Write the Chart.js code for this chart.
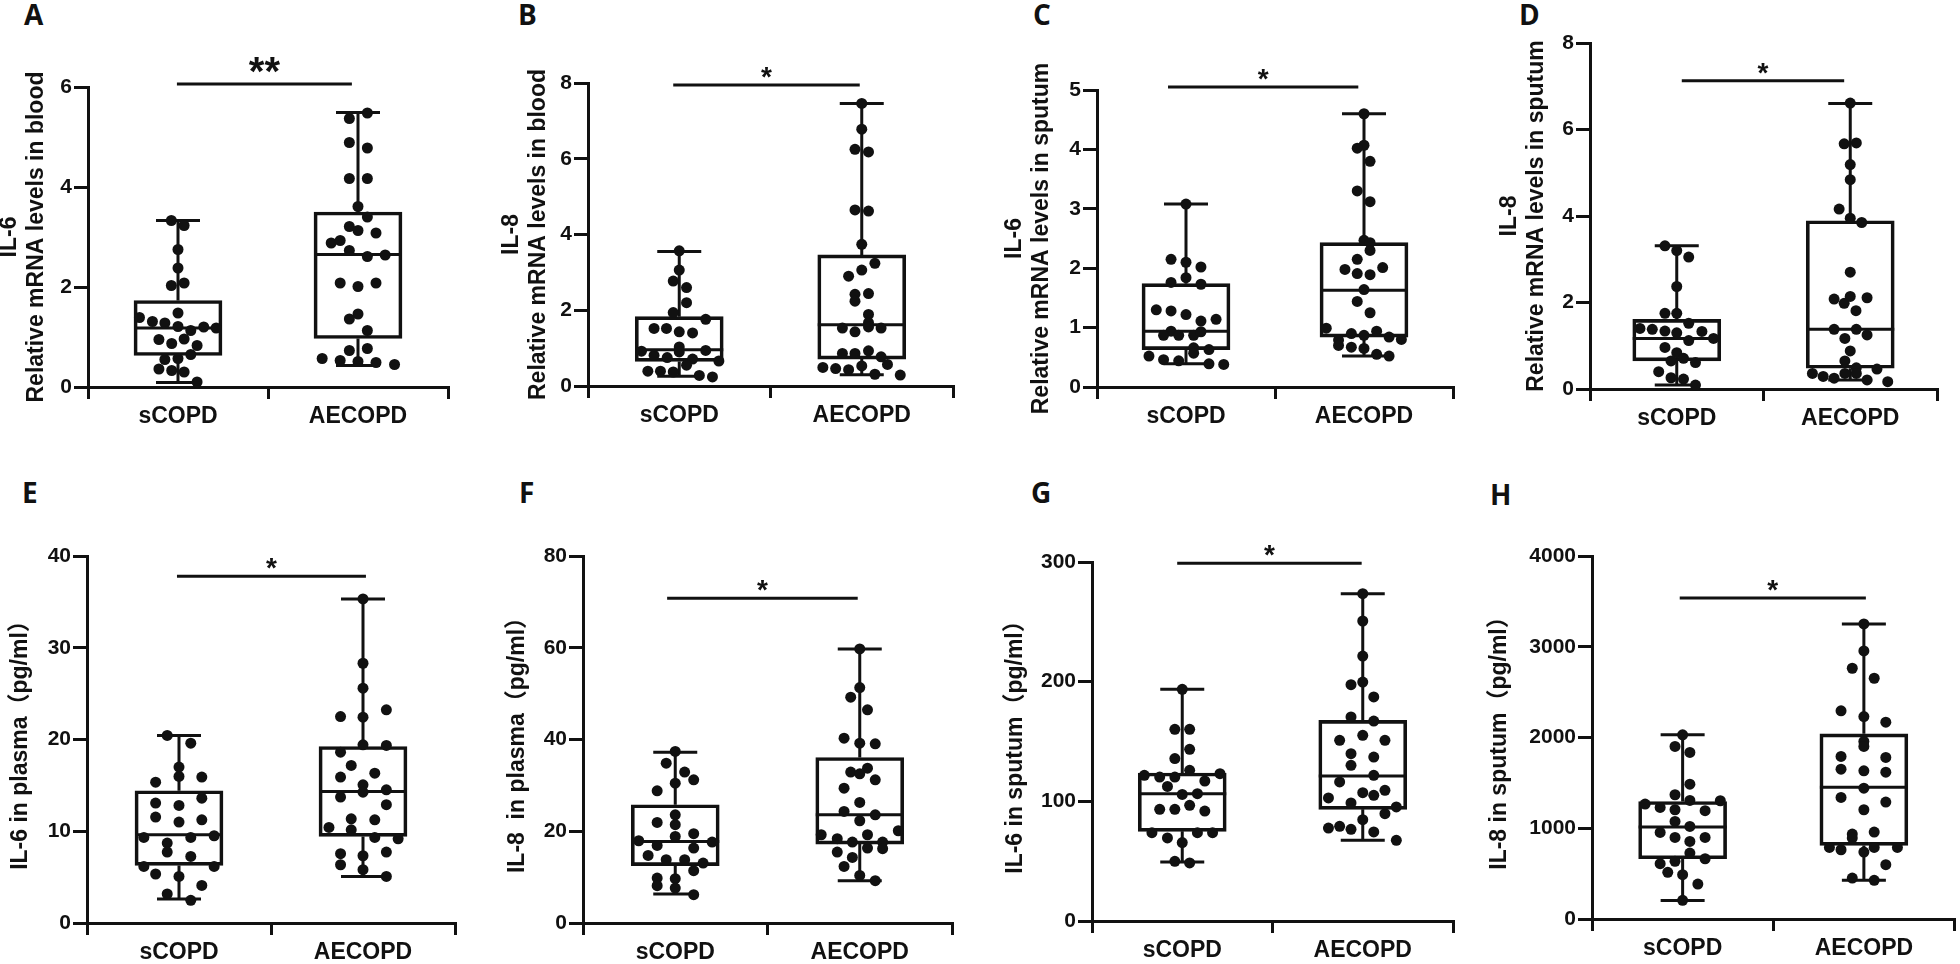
<!DOCTYPE html>
<html><head><meta charset="utf-8">
<script src="https://cdn.jsdelivr.net/npm/chart.js@4.4.1/dist/chart.umd.min.js"></script>
<style>
html,body{margin:0;padding:0;background:#fff;}
body{width:1960px;height:964px;position:relative;overflow:hidden;}
canvas{position:absolute;}
.lbl{position:absolute;font-family:'Open Sans',sans-serif;font-weight:700;font-size:28px;line-height:28px;color:#111;}
</style></head><body>
<div id="letters"></div>
<script>
// ---------------- DATA ----------------
const categories = ['sCOPD', 'AECOPD'];
const panelLetters = ['A','B','C','D','E','F','G','H'];

const A_yTitle = ['IL-6', 'Relative mRNA levels in blood'];
const B_yTitle = ['IL-8', 'Relative mRNA levels in blood'];
const C_yTitle = ['IL-6', 'Relative mRNA levels in sputum'];
const D_yTitle = ['IL-8', 'Relative mRNA levels in sputum'];
const E_yTitle = 'IL-6 in plasma（pg/ml）';
const F_yTitle = 'IL-8  in plasma（pg/ml）';
const G_yTitle = 'IL-6 in sputum（pg/ml）';
const H_yTitle = 'IL-8 in sputum（pg/ml）';

const A_yTicks = [0, 2, 4, 6];
const B_yTicks = [0, 2, 4, 6, 8];
const C_yTicks = [0, 1, 2, 3, 4, 5];
const D_yTicks = [0, 2, 4, 6, 8];
const E_yTicks = [0, 10, 20, 30, 40];
const F_yTicks = [0, 20, 40, 60, 80];
const G_yTicks = [0, 100, 200, 300];
const H_yTicks = [0, 1000, 2000, 3000, 4000];

// box stats: [min, Q1, median, Q3, max]
const A_box_sCOPD = [0.09, 0.63, 1.18, 1.73, 3.33];
const A_box_AECOPD = [0.43, 0.97, 2.65, 3.50, 5.49];
const B_box_sCOPD = [0.26, 0.65, 0.96, 1.83, 3.55];
const B_box_AECOPD = [0.30, 0.71, 1.62, 3.46, 7.46];
const C_box_sCOPD = [0.39, 0.63, 0.94, 1.74, 3.08];
const C_box_AECOPD = [0.52, 0.84, 1.63, 2.43, 4.60];
const D_box_sCOPD = [0.09, 0.65, 1.17, 1.61, 3.31];
const D_box_AECOPD = [0.21, 0.48, 1.38, 3.89, 6.60];
const E_box_sCOPD = [2.61, 6.28, 9.62, 14.41, 20.44];
const E_box_AECOPD = [5.08, 9.44, 14.34, 19.24, 35.32];
const F_box_sCOPD = [6.32, 12.49, 17.79, 25.77, 37.24];
const F_box_AECOPD = [9.22, 17.2, 23.59, 36.08, 59.75];
const G_box_sCOPD = [49.3, 74.9, 106.4, 123.7, 193.6];
const G_box_AECOPD = [67.4, 93.3, 121.2, 167.7, 273.5];
const H_box_sCOPD = [205, 664, 1013, 1295, 2029];
const H_box_AECOPD = [426, 811, 1453, 2040, 3251];

// individual values and horizontal jitter (in category units)
const A_sCOPD = [3.33,3.23,2.75,2.38,2.03,2.08,1.48,1.39,1.31,1.28,1.21,1.13,1.20,1.18,0.95,0.87,0.96,0.83,0.65,0.55,0.57,0.36,0.33,0.30,0.10];
const A_sCOPD_jit = [-0.037,0.034,0,0,-0.037,0.034,0,-0.214,-0.142,-0.073,0,0.071,0.143,0.212,-0.106,-0.035,0.034,0.106,0.071,-0.073,0,-0.106,-0.035,0.034,0.106];
const A_AECOPD = [5.48,5.37,4.89,4.78,4.17,4.17,3.61,3.40,3.21,3.13,3.08,2.88,2.93,2.73,2.61,2.64,2.08,2.01,2.08,1.46,1.36,1.13,0.73,0.77,0.57,0.53,0.51,0.49,0.45];
const A_AECOPD_jit = [0.052,-0.048,-0.048,0.052,-0.048,0.052,0,0.052,-0.048,0,0.1,-0.149,-0.099,-0.048,0.052,0.151,-0.099,0,0.1,0,-0.048,0.052,-0.048,0.052,-0.199,-0.099,0,0.1,0.203];

const B_sCOPD = [3.57,3.06,2.77,2.60,2.20,1.94,1.76,1.52,1.52,1.43,1.40,1.03,0.92,0.81,0.75,0.90,0.94,0.71,0.66,0.55,0.39,0.39,0.37,0.28,0.24];
const B_sCOPD_jit = [0,0,-0.033,0.04,0.04,-0.033,0.145,-0.138,-0.07,0,0.073,0,-0.207,-0.138,-0.066,0,0.145,0.073,0.217,0.04,-0.172,-0.103,-0.033,0.11,0.182];
const B_AECOPD = [7.46,6.78,6.25,6.18,4.65,4.62,3.74,3.24,3.06,2.90,2.42,2.44,2.24,1.89,1.67,1.53,1.43,1.56,1.53,0.86,0.86,0.93,0.77,0.57,0.49,0.46,0.43,0.53,0.31,0.29];
const B_AECOPD_jit = [0,0,-0.037,0.037,-0.037,0.037,0,0.072,0,-0.072,-0.037,0.037,-0.037,0.037,0.037,-0.106,-0.037,0.037,0.106,-0.106,-0.037,0.037,0.106,0.141,-0.213,-0.143,-0.072,0,0.072,0.211];

const C_sCOPD = [3.08,2.15,2.10,2.02,1.84,1.76,1.73,1.30,1.28,1.22,1.14,1.11,0.94,0.87,0.87,0.87,0.93,0.66,0.63,0.57,0.52,0.46,0.44,0.39,0.38];
const C_sCOPD_jit = [0,-0.084,0,0.084,0,-0.084,0.084,-0.167,-0.084,0,0.169,0.084,-0.084,-0.126,-0.041,0.043,0.084,0.043,0.129,0.043,-0.208,-0.126,-0.041,0.129,0.212];
const C_AECOPD = [4.60,4.07,4.02,3.80,3.30,3.12,2.47,2.43,2.30,2.15,1.98,1.91,1.89,2.01,1.64,1.44,1.25,0.99,0.79,0.90,0.87,0.94,0.84,0.80,0.70,0.67,0.65,0.55,0.52];
const C_AECOPD_jit = [0,0,-0.038,0.034,-0.038,0.034,0,0.034,0.034,-0.038,-0.107,-0.038,0.034,0.105,0,-0.038,0.034,-0.212,-0.143,-0.071,0,0.071,0.141,0.21,-0.143,-0.071,0,0.071,0.141];

const D_sCOPD = [3.31,3.20,3.05,2.37,1.75,1.75,1.52,1.40,1.38,1.34,1.30,1.33,1.12,1.17,0.96,0.84,0.65,0.71,0.61,0.40,0.26,0.23,0.09];
const D_sCOPD_jit = [-0.068,0,0.069,0,-0.068,0,0.069,-0.212,-0.141,-0.068,0,0.145,0.069,0.212,-0.068,0,-0.033,0.039,0.108,-0.104,-0.033,0.039,0.108];
const D_AECOPD = [6.61,5.67,5.69,5.19,4.84,4.16,3.95,3.85,2.70,2.08,1.98,2.14,2.11,1.81,1.38,1.38,1.25,1.17,0.88,0.65,0.49,0.46,0.36,0.36,0.29,0.25,0.36,0.21,0.17];
const D_AECOPD_jit = [0,-0.035,0.035,0,0,-0.064,0,0.066,0,-0.093,-0.035,0,0.097,0.033,-0.093,0.035,0.097,-0.031,0,-0.031,0.035,0.154,-0.031,-0.218,-0.156,-0.093,0.035,0.097,0.216];

const E_sCOPD = [20.44,19.60,16.99,15.97,15.35,15.90,13.61,13.07,12.81,11.54,11.25,11.00,9.33,9.33,9.51,8.71,7.73,7.26,6.17,6.17,5.34,5.08,4.10,3.16,2.47];
const E_sCOPD_jit = [-0.064,0.064,0,0,-0.127,0.124,0.124,-0.127,0,-0.127,0.124,0,-0.191,0.064,0.191,-0.064,-0.064,0.064,-0.191,0.191,-0.127,0,0.124,-0.064,0.064];
const E_AECOPD = [35.32,28.31,25.59,23.23,22.50,22.43,19.42,19.35,18.62,17.17,16.33,15.90,15.06,14.26,14.52,13.72,12.89,11.36,11.25,10.42,10.16,9.33,9.18,7.73,7.55,7.33,6.35,5.81,5.08];
const E_AECOPD_jit = [0,0,0,0.127,-0.122,0,0,0.127,-0.122,-0.064,0.064,-0.122,0,0,0.127,-0.122,0.127,-0.064,0.064,-0.185,-0.064,0.064,0.191,0.127,-0.122,0,-0.122,0,0.127];

const F_sCOPD = [37.39,34.85,32.89,31.22,30.49,28.82,23.59,21.92,21.42,19.46,18.87,17.93,16.91,17.64,16.33,14.74,13.79,13.79,13.07,11.40,9.80,9.66,8.13,7.62,6.17];
const F_sCOPD_jit = [0,-0.049,0.051,0.1,0,-0.098,0,-0.098,0,0.1,0,-0.198,-0.098,0.2,0.1,-0.147,-0.049,0.051,0.151,0.1,-0.098,0,-0.098,0,0.1];
const F_AECOPD = [59.75,51.33,49.22,46.46,40.29,39.20,39.06,33.76,32.89,32.52,31.22,29.40,26.28,24.32,23.59,22.29,19.24,19.24,20.11,18.37,17.64,17.64,16.33,16.19,15.46,14.30,12.34,10.38,9.22];
const F_AECOPD_jit = [0,0,-0.049,0.042,-0.085,0,0.084,0.042,-0.049,0,0.084,-0.085,0,-0.085,0.084,0,-0.209,0.042,0.209,-0.122,-0.04,0.124,0.042,0.124,-0.122,-0.04,-0.085,0,0.084];

const G_sCOPD = [193.6,160.2,160.2,143.5,135.7,125.9,121.7,120.3,120.3,123.1,117.0,112.5,105.8,106.4,96.7,93.3,93.3,91.9,73.8,73.8,73.8,69.4,65.5,49.9,48.5];
const G_sCOPD_jit = [0,-0.041,0.041,0.041,-0.041,0.041,-0.21,-0.125,-0.041,0.209,0.125,-0.082,0,0.084,0.041,-0.125,-0.041,0.125,-0.168,0.084,0.168,-0.082,0,-0.041,0.041];
const G_AECOPD = [273.5,250.7,221.4,197.5,199.7,187.2,170.5,167.1,155.2,151.0,151.0,139.8,137.0,130.1,121.7,116.2,109.2,107.2,105.0,102.8,98.6,95.3,89.7,84.7,77.7,79.1,76.6,74.4,67.4];
const G_AECOPD_jit = [0,0,0,-0.065,0,0.061,-0.065,0.061,0,-0.128,0.123,-0.065,0.061,-0.065,0.061,-0.128,0.123,0,0.061,-0.19,-0.065,0.186,0.123,0,-0.19,-0.128,-0.065,0.061,0.186];

const H_sCOPD = [2029,1901,1835,1486,1369,1306,1266,1303,1229,1204,1193,1075,1020,954,899,855,899,727,635,664,609,514,488,385,206];
const H_sCOPD_jit = [0,-0.042,0.04,0.04,-0.042,0.04,-0.207,0.208,-0.124,-0.042,0.124,-0.042,0.04,-0.124,-0.042,0.04,0.124,0.04,-0.042,0.124,-0.124,-0.082,0,0.084,0];
const H_AECOPD = [3251,2954,2763,2653,2294,2231,2169,1956,1901,1791,1780,1651,1633,1618,1442,1339,1288,1204,936,958,892,789,763,789,789,738,598,451,426];
const H_AECOPD_jit = [0,0,-0.064,0.057,-0.126,0,0.121,0,0,-0.126,0.121,-0.126,0,0.121,0,-0.126,0.121,0,-0.064,0.057,-0.064,-0.19,-0.126,0.057,0.185,0,0.121,-0.064,0.057];

// significance annotations
const sigLabels = ['**', '*', '*', '*', '*', '*', '*', '*'];
const sigHeights = [6.06, 7.95, 5.05, 7.13, 37.8, 70.8, 298.9, 3538];
const sigSpans = [[0.994,1.966],[0.967,1.989],[0.899,1.968],[1.029,1.965],[0.989,2.016],[0.956,1.989],[0.972,1.994],[0.984,2.011]];

// ---------------- LAYOUT / STYLE ----------------
const FONT = "'Liberation Sans', Arial, 'Noto Sans CJK SC', sans-serif";
const INK = '#111';
const geom = [
  {cx:0,    cy:0,   L:88,   T:87,  R:448,  B:387, tx:10},
  {cx:490,  cy:0,   L:588,  T:83,  R:953,  B:386, tx:511.5},
  {cx:980,  cy:0,   L:1097, T:90,  R:1453, B:387, tx:1015},
  {cx:1470, cy:0,   L:1590, T:43,  R:1937, B:389, tx:1510},
  {cx:0,    cy:482, L:87,   T:556, R:455,  B:923, tx:21},
  {cx:490,  cy:482, L:583,  T:556, R:952,  B:923, tx:517.5},
  {cx:980,  cy:482, L:1092, T:562, R:1453, B:921, tx:1016},
  {cx:1470, cy:482, L:1592, T:556, R:1957, B:919, tx:1500}
];
const letterPos = [[24,0],[518,0],[1033,0],[1519,0],[22,478],[519,478],[1031,478],[1490,480]];
const sigFontSize = [40, 28, 28, 28, 28, 28, 28, 28];
const CW = 490, CH = 482;

const panels = [
  {yTitle:A_yTitle, yTicks:A_yTicks, s:A_sCOPD, sj:A_sCOPD_jit, a:A_AECOPD, aj:A_AECOPD_jit, bs:A_box_sCOPD, ba:A_box_AECOPD},
  {yTitle:B_yTitle, yTicks:B_yTicks, s:B_sCOPD, sj:B_sCOPD_jit, a:B_AECOPD, aj:B_AECOPD_jit, bs:B_box_sCOPD, ba:B_box_AECOPD},
  {yTitle:C_yTitle, yTicks:C_yTicks, s:C_sCOPD, sj:C_sCOPD_jit, a:C_AECOPD, aj:C_AECOPD_jit, bs:C_box_sCOPD, ba:C_box_AECOPD},
  {yTitle:D_yTitle, yTicks:D_yTicks, s:D_sCOPD, sj:D_sCOPD_jit, a:D_AECOPD, aj:D_AECOPD_jit, bs:D_box_sCOPD, ba:D_box_AECOPD},
  {yTitle:E_yTitle, yTicks:E_yTicks, s:E_sCOPD, sj:E_sCOPD_jit, a:E_AECOPD, aj:E_AECOPD_jit, bs:E_box_sCOPD, ba:E_box_AECOPD},
  {yTitle:F_yTitle, yTicks:F_yTicks, s:F_sCOPD, sj:F_sCOPD_jit, a:F_AECOPD, aj:F_AECOPD_jit, bs:F_box_sCOPD, ba:F_box_AECOPD},
  {yTitle:G_yTitle, yTicks:G_yTicks, s:G_sCOPD, sj:G_sCOPD_jit, a:G_AECOPD, aj:G_AECOPD_jit, bs:G_box_sCOPD, ba:G_box_AECOPD},
  {yTitle:H_yTitle, yTicks:H_yTicks, s:H_sCOPD, sj:H_sCOPD_jit, a:H_AECOPD, aj:H_AECOPD_jit, bs:H_box_sCOPD, ba:H_box_AECOPD}
];

// whiskers, medians and significance star drawn through the chart scales
const boxWhiskerPlugin = {
  id: 'boxWhisker',
  beforeDatasetsDraw(chart, args, opts) {
    const {ctx, scales: {x, y}} = chart;
    ctx.save();
    ctx.strokeStyle = INK; ctx.lineWidth = 3; ctx.lineCap = 'butt';
    opts.boxes.forEach((b, i) => {
      const xp = x.getPixelForValue(i + 1);
      const [mn, q1, md, q3, mx] = b.map(v => y.getPixelForValue(v));
      ctx.beginPath();
      ctx.moveTo(xp, mx); ctx.lineTo(xp, q3);
      ctx.moveTo(xp, q1); ctx.lineTo(xp, mn);
      ctx.moveTo(xp - opts.capHalf, mx); ctx.lineTo(xp + opts.capHalf, mx);
      ctx.moveTo(xp - opts.capHalf, mn); ctx.lineTo(xp + opts.capHalf, mn);
      ctx.moveTo(xp - opts.boxHalf, md); ctx.lineTo(xp + opts.boxHalf, md);
      ctx.stroke();
    });
    ctx.restore();
  },
  afterDatasetsDraw(chart, args, opts) {
    const {ctx, scales: {x, y}} = chart;
    const xm = (x.getPixelForValue(opts.span[0]) + x.getPixelForValue(opts.span[1])) / 2;
    ctx.save();
    ctx.fillStyle = INK;
    ctx.font = `bold ${opts.size}px ${FONT}`;
    ctx.textAlign = 'center';
    ctx.textBaseline = 'alphabetic';
    ctx.fillText(opts.label, xm, y.getPixelForValue(opts.h) + 1);
    ctx.restore();
  }
};

const lettersDiv = document.getElementById('letters');
panels.forEach((p, i) => {
  const g = geom[i];
  const lab = document.createElement('div');
  lab.className = 'lbl';
  lab.style.left = letterPos[i][0] + 'px';
  lab.style.top = letterPos[i][1] + 'px';
  lab.textContent = panelLetters[i];
  lettersDiv.appendChild(lab);

  const cv = document.createElement('canvas');
  cv.width = CW; cv.height = CH;
  cv.style.left = g.cx + 'px'; cv.style.top = g.cy + 'px';
  document.body.appendChild(cv);

  const pts = (vals, jit, c) => vals.map((v, k) => ({x: c + jit[k], y: v}));
  const yMax = p.yTicks[p.yTicks.length - 1];
  const titleLH = 1.17, titleSize = 23;

  new Chart(cv, {
    type: 'scatter',
    data: {
      datasets: [
        {type:'scatter', data: pts(p.s, p.sj, 1).concat(pts(p.a, p.aj, 2)),
         pointRadius: 5.5, pointHoverRadius: 5.5, pointBackgroundColor: INK, pointBorderWidth: 0,
         clip: false, order: 0},
        {type:'scatter', showLine: true,
         data: [{x: sigSpans[i][0], y: sigHeights[i]}, {x: sigSpans[i][1], y: sigHeights[i]}],
         borderColor: INK, borderWidth: 3, pointRadius: 0, clip: false, order: 1},
        {type:'bar', data: [{x: 1, y: [p.bs[1], p.bs[3]]}, {x: 2, y: [p.ba[1], p.ba[3]]}],
         backgroundColor: 'rgba(0,0,0,0)', borderColor: INK, borderWidth: 3, borderSkipped: false,
         barThickness: 88, grouped: false, clip: false, order: 2}
      ]
    },
    options: {
      responsive: false, animation: false, devicePixelRatio: 1, events: [],
      layout: {padding: {top: g.T - g.cy, right: g.cx + CW - g.R, left: 0, bottom: 0}},
      plugins: {
        legend: {display: false}, tooltip: {enabled: false},
        boxWhisker: {boxes: [p.bs, p.ba], capHalf: 22, boxHalf: 44,
                     label: sigLabels[i], h: sigHeights[i], span: sigSpans[i], size: sigFontSize[i]}
      },
      scales: {
        x: {
          type: 'linear', min: 0.5, max: 2.5, offset: false, bounds: 'data',
          afterBuildTicks: s => { s.ticks = [{value: 1}, {value: 2}]; },
          afterFit: s => { s.height = g.cy + CH - g.B; },
          ticks: {autoSkip: false, maxRotation: 0, padding: 4, color: INK,
                  font: {family: FONT, size: 23, weight: 'bold'},
                  callback: v => categories[Math.round(v) - 1]},
          grid: {display: true, drawOnChartArea: false, drawTicks: true, tickLength: 12, color: INK, lineWidth: 3},
          border: {display: true, color: INK, width: 3}
        },
        y: {
          type: 'linear', min: 0, max: yMax, bounds: 'data',
          afterBuildTicks: s => { s.ticks = p.yTicks.map(v => ({value: v})); },
          afterFit: s => { s.width = g.L - g.cx; },
          ticks: {padding: 2, color: INK, font: {family: FONT, size: 21, weight: 'bold'},
                  callback: v => String(v)},
          grid: {display: true, drawOnChartArea: false, drawTicks: true, tickLength: 14, color: INK, lineWidth: 3},
          border: {display: true, color: INK, width: 3},
          title: {display: true, text: p.yTitle, color: INK,
                  font: {family: FONT, size: titleSize, weight: 'bold', lineHeight: titleLH},
                  padding: {top: g.tx - g.cx - titleSize * titleLH / 2, bottom: 0}}
        }
      }
    },
    plugins: [boxWhiskerPlugin]
  });
});
</script>
</body></html>
